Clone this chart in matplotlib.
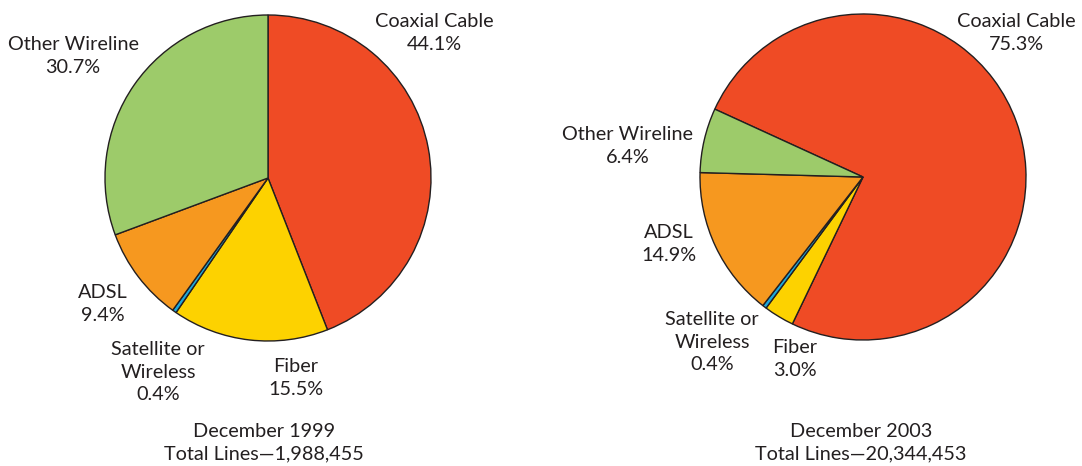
import matplotlib
matplotlib.use("Agg")
import matplotlib.pyplot as plt

# Broadband lines by technology
categories = ["Coaxial Cable", "Fiber", "Satellite or\nWireless", "ADSL", "Other Wireline"]
share_1999 = [44.1, 15.5, 0.4, 9.4, 30.7]
share_2003 = [75.3, 3.0, 0.4, 14.9, 6.4]
titles = ["December 1999\nTotal Lines\u20141,988,455",
          "December 2003\nTotal Lines\u201420,344,453"]

colors = ["#EF4B25", "#FDD200", "#1CA8DD", "#F6981F", "#9DCB6A"]
text_color = "#231F20"

W, H = 1082, 466
fig = plt.figure(figsize=(W / 100, H / 100), dpi=100)
plt.rcParams["font.family"] = ["Lato", "DejaVu Sans"]

R = 163  # pie radius in pixels


def pie_axes(cx, cy):
    ax = fig.add_axes([(cx - R) / W, 1 - (cy + R) / H, 2 * R / W, 2 * R / H])
    return ax


def draw(ax, values, start):
    wedges, _ = ax.pie(values, colors=colors, startangle=start, counterclock=False,
                       radius=1, wedgeprops=dict(edgecolor="#231F20", linewidth=1.0))
    for w in wedges:
        w.set_clip_on(False)
    ax.set_xlim(-1, 1)
    ax.set_ylim(-1, 1)
    ax.set_aspect("equal")
    ax.axis("off")


def label(x, y, s):
    fig.text(x / W, 1 - y / H, s, ha="center", va="center", fontsize=14.3,
             color=text_color, linespacing=1.38)


ax1 = pie_axes(268, 178)
draw(ax1, share_1999, 90)
ax2 = pie_axes(863, 177)
draw(ax2, share_2003, 155.4)

fmt = lambda name, v: f"{name}\n{v:.1f}%"

# 1999 labels
pos_1999 = [(434, 33), (296, 378), (158, 372), (103, 304), (73, 56)]
for name, v, (x, y) in zip(categories, share_1999, pos_1999):
    label(x, y, fmt(name, v))
label(264, 443, titles[0])

# 2003 labels
pos_2003 = [(1016, 33), (795, 359), (712, 342), (669, 244), (628, 146)]
for name, v, (x, y) in zip(categories, share_2003, pos_2003):
    label(x, y, fmt(name, v))
label(861, 443, titles[1])

fig.savefig("out.png", dpi=100, facecolor="white")
